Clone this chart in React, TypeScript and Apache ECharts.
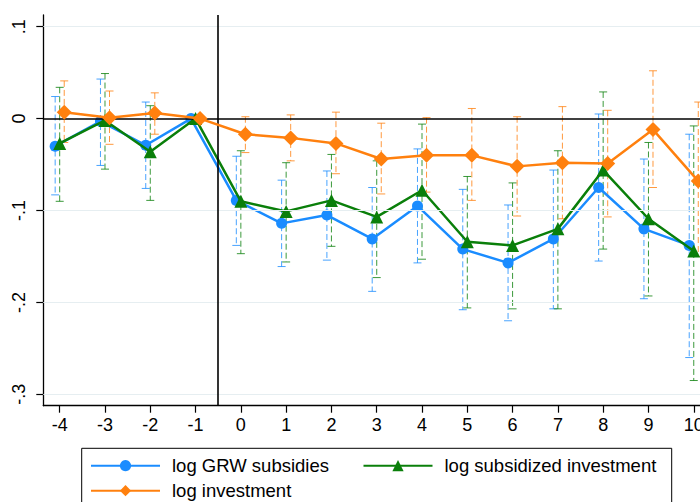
import React, { useEffect, useRef } from 'react';
import * as echarts from 'echarts';

// event time relative to treatment (-1 is the reference period)
const eventTime = [-4, -3, -2, -1, 0, 1, 2, 3, 4, 5, 6, 7, 8, 9, 10];

// log GRW subsidies
const grw = [-0.030, -0.003, -0.029, 0, -0.089, -0.114, -0.105, -0.131, -0.095, -0.142, -0.157, -0.131, -0.075, -0.120, -0.138];
const grwLo = [-0.083, -0.051, -0.076, null, -0.138, -0.161, -0.154, -0.188, -0.157, -0.208, -0.220, -0.207, -0.155, -0.196, -0.260];
const grwHi = [0.024, 0.043, 0.018, null, -0.041, -0.067, -0.057, -0.075, -0.033, -0.077, -0.094, -0.056, 0.005, -0.044, -0.017];

// log subsidized investment
const subInv = [-0.027, -0.002, -0.036, 0, -0.090, -0.101, -0.089, -0.107, -0.078, -0.134, -0.138, -0.120, -0.056, -0.109, -0.144];
const subLo = [-0.090, -0.055, -0.089, null, -0.147, -0.156, -0.139, -0.173, -0.153, -0.206, -0.207, -0.207, -0.142, -0.193, -0.285];
const subHi = [0.034, 0.049, 0.014, null, -0.035, -0.048, -0.039, -0.046, -0.006, -0.063, -0.070, -0.035, 0.029, -0.026, -0.008];

// log investment
const inv = [0.007, 0.001, 0.006, 0, -0.017, -0.021, -0.027, -0.044, -0.040, -0.040, -0.052, -0.048, -0.049, -0.012, -0.068];
const invLo = [-0.026, -0.028, -0.017, null, -0.037, -0.046, -0.060, -0.082, -0.080, -0.089, -0.106, -0.109, -0.107, -0.075, -0.150];
const invHi = [0.041, 0.030, 0.028, null, 0.002, 0.004, 0.007, -0.005, 0.001, 0.011, 0.002, 0.013, 0.009, 0.052, 0.018];

const yTicks = [-0.3, -0.2, -0.1, 0, 0.1];
const gridLines = [0.1, -0.1, -0.2, -0.3];

const BLUE = '#1a8cff';
const GREEN = '#0a7f0a';
const ORANGE = '#ff800e';
const FONT = '"Liberation Sans", Arial, sans-serif';

const pairs = (vals: number[], shift: number) => eventTime.map((t, i) => [t + shift, vals[i]]);
const bars = (lo: (number | null)[], hi: (number | null)[], shift: number) =>
  eventTime.map((t, i) => [t + shift, lo[i], hi[i]]).filter((d) => d[1] != null);

function errorBars(name: string, color: string, data: any[]) {
  return {
    type: 'custom',
    name,
    data,
    z: 2,
    silent: true,
    encode: { x: 0, y: [1, 2] },
    renderItem: (_params: any, api: any) => {
      const x = api.value(0);
      const top = api.coord([x, api.value(2)]);
      const bot = api.coord([x, api.value(1)]);
      const w = 4;
      const solid = { stroke: color, lineWidth: 1, opacity: 0.8 };
      return {
        type: 'group',
        children: [
          { type: 'line', shape: { x1: top[0], y1: top[1], x2: bot[0], y2: bot[1] }, style: { ...solid, lineDash: [6, 3] } },
          { type: 'line', shape: { x1: top[0] - w, y1: top[1], x2: top[0] + w, y2: top[1] }, style: solid },
          { type: 'line', shape: { x1: bot[0] - w, y1: bot[1], x2: bot[0] + w, y2: bot[1] }, style: solid },
        ],
      };
    },
  };
}

const legendBase = {
  orient: 'horizontal',
  padding: 0,
  itemWidth: 69,
  itemHeight: 14,
  selectedMode: false,
  textStyle: { fontSize: 18.5, color: '#000', fontFamily: FONT, lineHeight: 20, padding: [0, 0, 0, 7] },
};

const App: React.FC = () => {
  const chartRef = useRef<HTMLDivElement | null>(null);

  useEffect(() => {
    if (!chartRef.current) return;
    const chart = echarts.init(chartRef.current, null, { renderer: 'svg' });

    const option = {
      animation: false,
      backgroundColor: '#fff',
      textStyle: { fontFamily: FONT },
      grid: { left: 43.3, top: 15, right: 0, bottom: 96.3, containLabel: false, outerBoundsMode: 'none' },
      xAxis: {
        type: 'value',
        min: -4.362,
        max: 10.138,
        axisLine: { show: true, onZero: false, lineStyle: { color: '#000', width: 1.3 } },
        axisTick: { show: true, length: 7, lineStyle: { color: '#000', width: 1.2 }, customValues: eventTime },
        axisLabel: {
          customValues: eventTime,
          fontSize: 18,
          color: '#000',
          margin: 10,
          showMaxLabel: true,
          hideOverlap: false,
          formatter: (v: number) => String(v),
        },
        splitLine: { show: false },
      },
      yAxis: {
        type: 'value',
        min: -0.3124,
        max: 0.1127,
        axisLine: { show: true, onZero: false, lineStyle: { color: '#000', width: 1.3 } },
        axisTick: { show: true, length: 7, lineStyle: { color: '#000', width: 1.2 }, customValues: yTicks },
        axisLabel: {
          customValues: yTicks,
          rotate: 90,
          fontSize: 18,
          color: '#000',
          margin: 15,
          formatter: (v: number) => {
            if (Math.abs(v) < 1e-9) return '0';
            return (v < 0 ? '-' : '') + Math.abs(v).toFixed(1).replace(/^0/, '');
          },
        },
        splitLine: { show: false },
      },
      legend: [
        { ...legendBase, data: ['log GRW subsidies'], left: 90, top: 455.7 },
        { ...legendBase, data: ['log subsidized investment'], left: 362.5, top: 455.7 },
        { ...legendBase, data: ['log investment'], left: 90, top: 480.7 },
      ],
      graphic: [
        {
          type: 'rect',
          shape: { x: 81.7, y: 448.3, width: 590, height: 80 },
          style: { fill: 'none', stroke: '#000', lineWidth: 1 },
          silent: true,
        },
      ],
      series: [
        {
          type: 'line',
          name: 'reference lines',
          data: [],
          symbol: 'none',
          silent: true,
          z: 1,
          markLine: {
            silent: true,
            symbol: ['none', 'none'],
            label: { show: false },
            animation: false,
            data: [
              ...gridLines.map((v) => ({ yAxis: v, lineStyle: { color: '#e6eef1', width: 1, type: 'solid' } })),
              { yAxis: 0, lineStyle: { color: '#000', width: 1.6, type: 'solid' } },
              { xAxis: -0.5, lineStyle: { color: '#000', width: 1.6, type: 'solid' } },
            ],
          },
        },
        errorBars('grw ci', BLUE, bars(grwLo, grwHi, -0.1)),
        errorBars('sub ci', GREEN, bars(subLo, subHi, 0)),
        errorBars('inv ci', ORANGE, bars(invLo, invHi, 0.1)),
        {
          type: 'line',
          name: 'log GRW subsidies',
          data: pairs(grw, -0.1),
          symbol: 'circle',
          symbolSize: 11,
          z: 3,
          lineStyle: { color: BLUE, width: 2.5 },
          itemStyle: { color: BLUE },
        },
        {
          type: 'line',
          name: 'log subsidized investment',
          data: pairs(subInv, 0),
          symbol: 'triangle',
          symbolSize: 13,
          z: 4,
          lineStyle: { color: GREEN, width: 2.5 },
          itemStyle: { color: GREEN },
        },
        {
          type: 'line',
          name: 'log investment',
          data: pairs(inv, 0.1),
          symbol: 'diamond',
          symbolSize: 15,
          z: 5,
          lineStyle: { color: ORANGE, width: 2.5 },
          itemStyle: { color: ORANGE },
        },
      ],
    };

    chart.setOption(option as any);
    return () => {
      chart.dispose();
    };
  }, []);

  return <div ref={chartRef} style={{ position: 'fixed', left: 0, top: 0, width: 700, height: 502 }} />;
};

export default App;
